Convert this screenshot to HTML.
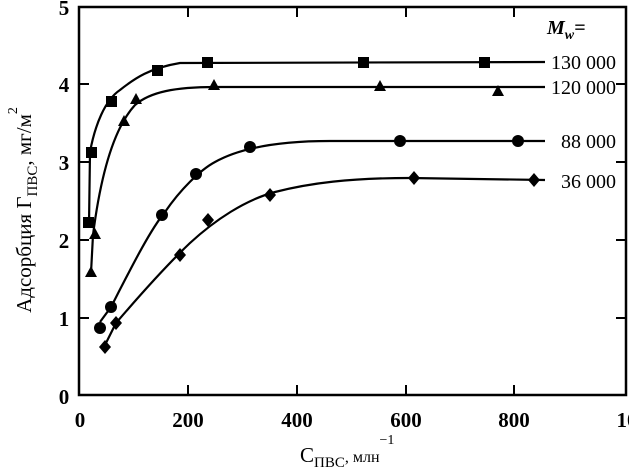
<!DOCTYPE html>
<html><head><meta charset="utf-8"><style>
body{margin:0;background:#fff}
svg{display:block;font-family:"Liberation Serif",serif;font-weight:bold}
</style></head><body>
<svg width="629" height="476" viewBox="0 0 629 476">
<g stroke="#000" stroke-width="2.5" fill="none">
<rect x="79" y="7" width="547" height="388"/>
</g>
<g stroke="#000" stroke-width="2">
<line x1="188" y1="395" x2="188" y2="385"/><line x1="297" y1="395" x2="297" y2="385"/><line x1="406" y1="395" x2="406" y2="385"/><line x1="514" y1="395" x2="514" y2="385"/>
<line x1="188" y1="7" x2="188" y2="17"/><line x1="297" y1="7" x2="297" y2="17"/><line x1="406" y1="7" x2="406" y2="17"/><line x1="514" y1="7" x2="514" y2="17"/>
<line x1="79" y1="84" x2="89" y2="84"/><line x1="79" y1="162" x2="89" y2="162"/><line x1="79" y1="240" x2="89" y2="240"/><line x1="79" y1="318" x2="89" y2="318"/>
<line x1="626" y1="84" x2="616" y2="84"/><line x1="626" y1="162" x2="616" y2="162"/><line x1="626" y1="240" x2="616" y2="240"/><line x1="626" y1="318" x2="616" y2="318"/>
</g>
<g font-size="21" text-anchor="middle">
<text x="64" y="15">5</text><text x="64" y="92">4</text><text x="64" y="170">3</text><text x="64" y="248">2</text><text x="64" y="326">1</text><text x="64" y="404">0</text>
<text x="80" y="427">0</text><text x="188" y="427">200</text><text x="297" y="427">400</text><text x="406" y="427">600</text><text x="514" y="427">800</text><text x="627" y="427">10</text>
</g>
<text transform="translate(31,210) rotate(-90)" text-anchor="middle" font-size="21" font-weight="normal">Адсорбция Γ<tspan font-size="15" dy="6">ПВС</tspan><tspan dy="-6">, мг/м</tspan><tspan font-size="14" dy="-14">2</tspan></text>
<text x="300" y="462" font-size="21" font-weight="normal">C<tspan font-size="15" dy="5">ПВС</tspan><tspan dy="-5" font-size="16">, млн</tspan><tspan font-size="14" dy="-18">−1</tspan></text>
<g stroke="#000" stroke-width="2.2" fill="none">
<path d="M89,225 L90,152 C95,125 105,100 120,90 C135,78 150,68 180,63 L545,62"/>
<path d="M91,273 L93,235 C100,180 112,130 135,105 C150,92 175,87 215,87 L545,87"/>
<path d="M100,322 L111,307 C130,270 150,230 165,212 C180,190 200,170 215,162 C240,148 280,141 330,141 L545,141"/>
<path d="M105,345 L116,323 C140,295 170,262 190,243 C215,220 245,200 275,192 C310,183 350,178 410,178 L545,180"/>
</g>
<g fill="#000">
<rect x="83" y="217" width="11" height="11"/><rect x="86" y="147" width="11" height="11"/><rect x="106" y="96" width="11" height="11"/><rect x="152" y="65" width="11" height="11"/><rect x="202" y="57" width="11" height="11"/><rect x="358" y="57" width="11" height="11"/><rect x="479" y="57" width="11" height="11"/>
<polygon points="91,266 85,277 97,277"/><polygon points="95,228 89,239 101,239"/><polygon points="124,115 118,126 130,126"/><polygon points="136,93 130,104 142,104"/><polygon points="214,79 208,90 220,90"/><polygon points="380,80 374,91 386,91"/><polygon points="498,85 492,96 504,96"/>
<circle cx="100" cy="328" r="6"/><circle cx="111" cy="307" r="6"/><circle cx="162" cy="215" r="6"/><circle cx="196" cy="174" r="6"/><circle cx="250" cy="147" r="6"/><circle cx="400" cy="141" r="6"/><circle cx="518" cy="141" r="6"/>
<polygon points="105,340 111,347 105,354 99,347"/><polygon points="116,316 122,323 116,330 110,323"/><polygon points="180,248 186,255 180,262 174,255"/><polygon points="208,213 214,220 208,227 202,220"/><polygon points="270,188 276,195 270,202 264,195"/><polygon points="414,171 420,178 414,185 408,178"/><polygon points="534,173 540,180 534,187 528,180"/>
</g>
<g font-size="20" font-weight="normal" text-anchor="end">
<text x="616" y="69">130 000</text><text x="616" y="94">120 000</text><text x="616" y="148">88 000</text><text x="616" y="188">36 000</text>
</g>
<text x="547" y="34" font-size="20" font-style="italic">M<tspan font-size="14" dy="5">w</tspan><tspan dy="-5">=</tspan></text>
</svg>
</body></html>
